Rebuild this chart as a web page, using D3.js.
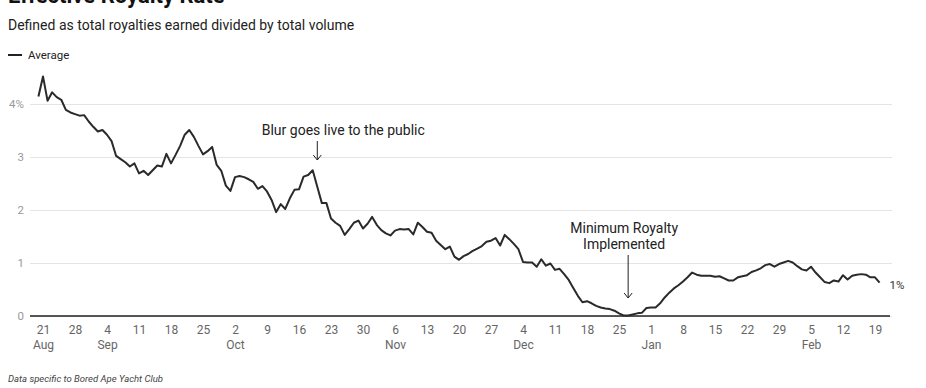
<!DOCTYPE html>
<html>
<head>
<meta charset="utf-8">
<script src="https://cdn.jsdelivr.net/npm/d3@7"></script>
<style>
  body { margin: 0; background: #fff; }
  svg { display: block; font-family: Roboto, "Noto Sans", sans-serif; }
</style>
</head>
<body>
<div id="chart"></div>
<script>
const width = 926;
const height = 388;

// daily values, first day = startDate
const startDate = new Date(Date.UTC(2022, 7, 20));
const royaltyRate = [
  4.14, 4.52, 4.06, 4.22, 4.13, 4.08, 3.89, 3.84, 3.81, 3.78, 3.79, 3.67,
  3.57, 3.48, 3.51, 3.42, 3.30, 3.02, 2.96, 2.90, 2.82, 2.88, 2.69, 2.74, 2.66, 2.75, 2.84, 2.82, 3.06, 2.88,
  3.04, 3.21, 3.42, 3.51, 3.38, 3.21, 3.05, 3.11, 3.19, 2.85, 2.74, 2.46,
  2.36, 2.62, 2.64, 2.62, 2.58, 2.53, 2.40, 2.45, 2.35, 2.19, 1.96, 2.11, 2.02, 2.22, 2.38, 2.39,
  2.63, 2.66, 2.75, 2.44, 2.13, 2.13, 1.84, 1.76, 1.70, 1.53, 1.64, 1.76, 1.80, 1.65, 1.74,
  1.87, 1.72, 1.62, 1.56, 1.52, 1.61, 1.64, 1.63, 1.64, 1.54, 1.76, 1.68, 1.59, 1.57, 1.42,
  1.34, 1.26, 1.31, 1.12, 1.06, 1.13, 1.17, 1.23, 1.27, 1.32, 1.40, 1.42, 1.47, 1.33, 1.53,
  1.45, 1.36, 1.26, 1.02, 1.01, 1.01, 0.93, 1.07, 0.95, 0.99, 0.87, 0.89, 0.79, 0.68, 0.53,
  0.38, 0.26, 0.28, 0.24, 0.19, 0.16, 0.14, 0.13, 0.10, 0.05, 0.01, 0.01, 0.03, 0.05, 0.06, 0.15,
  0.16, 0.16, 0.24, 0.35, 0.44, 0.52, 0.58, 0.65, 0.73, 0.82, 0.78, 0.76, 0.76, 0.76, 0.74,
  0.75, 0.71, 0.67, 0.67, 0.73, 0.75, 0.77, 0.83, 0.86, 0.90, 0.96, 0.98, 0.93, 0.98, 1.01, 1.04,
  1.01, 0.94, 0.88, 0.86, 0.93, 0.82, 0.73, 0.64, 0.62, 0.67, 0.65, 0.77, 0.69, 0.76, 0.78,
  0.79, 0.78, 0.73, 0.73, 0.63
];
const yTicks = [0, 1, 2, 3, 4];
const annotations = [
  {date: new Date(Date.UTC(2022, 9, 20)), lines: ["Blur goes live to the public"], top: 130, tip: 160, shift: 26},
  {date: new Date(Date.UTC(2022, 11, 27)), lines: ["Minimum Royalty", "Implemented"], top: 228, tip: 298, shift: -4}
];

const data = royaltyRate.map((v, i) => ({date: d3.utcDay.offset(startDate, i), value: v}));

const margin = {top: 104, right: 34, bottom: 72, left: 30};
const plotRight = width - margin.right;

const x = d3.scaleUtc()
  .domain([new Date(Date.UTC(2022, 7, 21)), new Date(Date.UTC(2023, 1, 19))])
  .range([43, 875]);
const y = d3.scaleLinear()
  .domain([0, 4])
  .range([316, 104]);

const svg = d3.select("#chart").append("svg")
  .attr("width", width)
  .attr("height", height);

// headings (title is cropped at the top, as in the source)
svg.append("text")
  .attr("x", 8).attr("y", 3)
  .attr("font-size", 22).attr("font-weight", "bold").attr("fill", "#111")
  .text("Effective Royalty Rate");
svg.append("text")
  .attr("x", 8).attr("y", 30)
  .attr("font-size", 14).attr("fill", "#222")
  .text("Defined as total royalties earned divided by total volume");

// legend
svg.append("line")
  .attr("x1", 8).attr("x2", 22).attr("y1", 55).attr("y2", 55)
  .attr("stroke", "#222").attr("stroke-width", 2);
svg.append("text")
  .attr("x", 28).attr("y", 59)
  .attr("font-size", 11.5).attr("fill", "#222")
  .text("Average");

// y axis + grid
svg.append("g")
  .attr("transform", `translate(${margin.left},0)`)
  .call(d3.axisLeft(y).tickValues(yTicks).tickSize(-(plotRight - margin.left)).tickPadding(6)
    .tickFormat(d => d === 4 ? "4%" : d))
  .call(g => g.select(".domain").remove())
  .call(g => g.selectAll(".tick line").attr("stroke", "#e4e4e4"))
  .call(g => g.selectAll(".tick text").attr("fill", "#999").attr("font-size", 11.5)
    .attr("font-family", "Roboto, sans-serif"));

// x axis
const months = d3.utcFormat("%b");
const xAxis = svg.append("g")
  .attr("transform", `translate(0,${y(0)})`)
  .call(d3.axisBottom(x).ticks(d3.utcSunday.every(1)).tickSize(0).tickPadding(9)
    .tickFormat(d3.utcFormat("%-d")));
xAxis.select(".domain").remove();
xAxis.selectAll(".tick text")
  .attr("fill", "#666").attr("font-size", 12).attr("font-family", "Roboto, sans-serif")
  .each(function(d, i) {
    if (i === 0 || d.getUTCDate() <= 7) {
      d3.select(this).append("tspan")
        .attr("x", 0).attr("dy", "1.3em")
        .text(months(d));
    }
  });

// baseline
svg.append("line")
  .attr("x1", margin.left).attr("x2", plotRight - 2)
  .attr("y1", y(0)).attr("y2", y(0))
  .attr("stroke", "#222").attr("stroke-width", 1.5);

// line
const line = d3.line()
  .x(d => x(d.date))
  .y(d => y(d.value));
svg.append("path")
  .datum(data)
  .attr("fill", "none")
  .attr("stroke", "#2a2a2a")
  .attr("stroke-width", 2)
  .attr("stroke-linejoin", "round")
  .attr("d", line);

// end label
const last = data[data.length - 1];
svg.append("text")
  .attr("x", x(last.date) + 10).attr("y", y(last.value) + 6)
  .attr("font-size", 11.5).attr("fill", "#333")
  .text("1%");

// annotations
annotations.forEach(a => {
  const ax = x(a.date);
  const t = svg.append("text")
    .attr("text-anchor", "middle").attr("font-size", 14).attr("fill", "#222");
  a.lines.forEach((l, i) => {
    t.append("tspan").attr("x", ax + a.shift).attr("y", a.top + 5 + i * 16).text(l);
  });
  const y1 = a.top + 5 + (a.lines.length - 1) * 16 + 6;
  svg.append("line")
    .attr("x1", ax).attr("x2", ax).attr("y1", y1).attr("y2", a.tip)
    .attr("stroke", "#222").attr("stroke-width", 1);
  svg.append("path")
    .attr("d", `M${ax - 4},${a.tip - 5}L${ax},${a.tip}L${ax + 4},${a.tip - 5}`)
    .attr("fill", "none").attr("stroke", "#222").attr("stroke-width", 1);
});

// footer
svg.append("text")
  .attr("x", 8).attr("y", 382)
  .attr("font-size", 9.5).attr("font-style", "italic").attr("fill", "#444")
  .text("Data specific to Bored Ape Yacht Club");
</script>
</body>
</html>
